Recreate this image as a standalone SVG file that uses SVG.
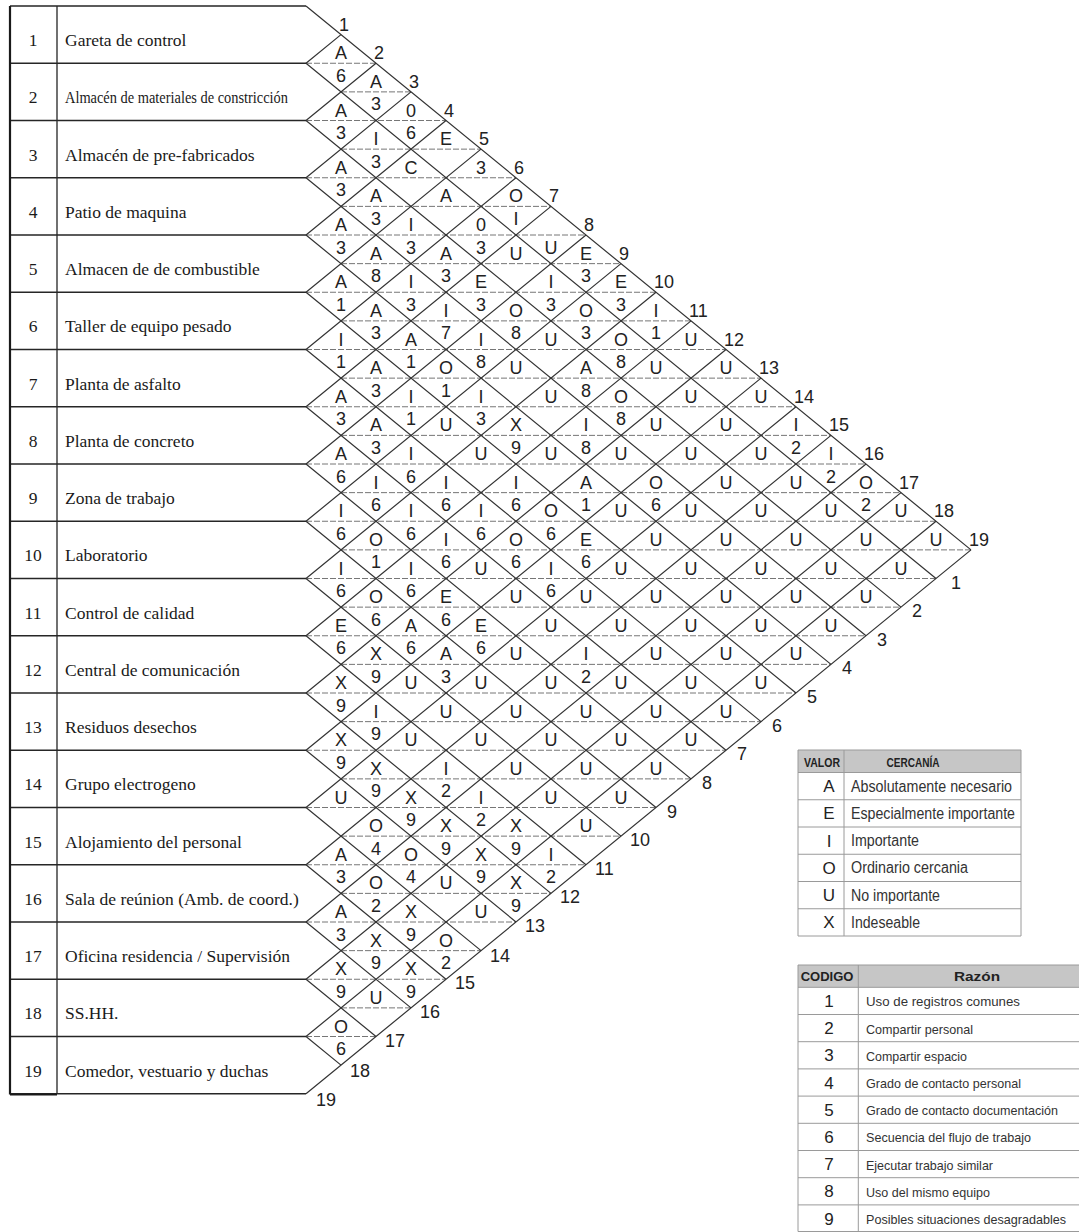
<svg xmlns="http://www.w3.org/2000/svg" width="1079" height="1232" viewBox="0 0 1079 1232">
<style>
.tl{stroke:#262626;stroke-width:1.3;fill:none}
.gl{stroke:#333;stroke-width:1.2;fill:none}
.dl{stroke:#666;stroke-width:0.9;stroke-dasharray:6 2;fill:none}
.num{font-family:"Liberation Serif","Times New Roman",serif;font-size:17.5px;fill:#1a1a1a;text-anchor:middle}
.name{font-family:"Liberation Serif","Times New Roman",serif;font-size:17.5px;fill:#1a1a1a}
.c text{font-family:"Liberation Sans",Arial,sans-serif;font-size:18px;fill:#222;text-anchor:middle}
.lab text{font-family:"Liberation Sans",Arial,sans-serif;font-size:18px;fill:#222}
.lg{stroke:#9a9a9a;stroke-width:1;fill:none}
.lk{font-family:"Liberation Sans",Arial,sans-serif;font-size:17px;fill:#222;text-anchor:middle}
.ld{font-family:"Liberation Sans",Arial,sans-serif;font-size:16px;fill:#333}
.lr{font-family:"Liberation Sans",Arial,sans-serif;font-size:13.5px;fill:#333}
.hb{font-family:"Liberation Sans",Arial,sans-serif;font-weight:bold;font-size:13px;fill:#222;text-anchor:middle}
</style>
<rect width="1079" height="1232" fill="#fff"/>

<g id="table-lines">
<path class="tl" d="M10 6H306M10 63.25H306M10 120.5H306M10 177.75H306M10 235H306M10 292.25H306M10 349.5H306M10 406.75H306M10 464H306M10 521.25H306M10 578.5H306M10 635.75H306M10 693H306M10 750.25H306M10 807.5H306M10 864.75H306M10 922H306M10 979.25H306M10 1036.5H306M10 1093.75H306M57 6V1093.75"/>
<path stroke="#1a1a1a" stroke-width="2.2" fill="none" d="M10 6V1094.5M10 1094.5H57"/>
</g>

<g id="rows">
<g id="row-1"><text class="num" x="33" y="46.1">1</text><text class="name" x="65" y="46.1">Gareta de control</text></g>
<g id="row-2"><text class="num" x="33" y="103.4">2</text><text class="name" x="65" y="103.4" textLength="223" lengthAdjust="spacingAndGlyphs">Almacén de materiales de constricción</text></g>
<g id="row-3"><text class="num" x="33" y="160.6">3</text><text class="name" x="65" y="160.6">Almacén de pre-fabricados</text></g>
<g id="row-4"><text class="num" x="33" y="217.9">4</text><text class="name" x="65" y="217.9">Patio de maquina</text></g>
<g id="row-5"><text class="num" x="33" y="275.1">5</text><text class="name" x="65" y="275.1">Almacen de de combustible</text></g>
<g id="row-6"><text class="num" x="33" y="332.4">6</text><text class="name" x="65" y="332.4">Taller de equipo pesado</text></g>
<g id="row-7"><text class="num" x="33" y="389.6">7</text><text class="name" x="65" y="389.6">Planta de asfalto</text></g>
<g id="row-8"><text class="num" x="33" y="446.9">8</text><text class="name" x="65" y="446.9">Planta de concreto</text></g>
<g id="row-9"><text class="num" x="33" y="504.1">9</text><text class="name" x="65" y="504.1">Zona de trabajo</text></g>
<g id="row-10"><text class="num" x="33" y="561.4">10</text><text class="name" x="65" y="561.4">Laboratorio</text></g>
<g id="row-11"><text class="num" x="33" y="618.6">11</text><text class="name" x="65" y="618.6">Control de calidad</text></g>
<g id="row-12"><text class="num" x="33" y="675.9">12</text><text class="name" x="65" y="675.9">Central de comunicación</text></g>
<g id="row-13"><text class="num" x="33" y="733.1">13</text><text class="name" x="65" y="733.1">Residuos desechos</text></g>
<g id="row-14"><text class="num" x="33" y="790.4">14</text><text class="name" x="65" y="790.4">Grupo electrogeno</text></g>
<g id="row-15"><text class="num" x="33" y="847.6">15</text><text class="name" x="65" y="847.6">Alojamiento del personal</text></g>
<g id="row-16"><text class="num" x="33" y="904.9">16</text><text class="name" x="65" y="904.9">Sala de reúnion (Amb. de coord.)</text></g>
<g id="row-17"><text class="num" x="33" y="962.1">17</text><text class="name" x="65" y="962.1">Oficina residencia / Supervisión</text></g>
<g id="row-18"><text class="num" x="33" y="1019.4">18</text><text class="name" x="65" y="1019.4">SS.HH.</text></g>
<g id="row-19"><text class="num" x="33" y="1076.6">19</text><text class="name" x="65" y="1076.6">Comedor, vestuario y duchas</text></g>
</g>

<g id="grid">
<path class="dl" d="M306 63.25H376M341 91.875H411M306 120.5H446M341 149.125H481M306 177.75H516M341 206.375H551M306 235H586M341 263.625H621M306 292.25H656M341 320.875H691M306 349.5H726M341 378.125H761M306 406.75H796M341 435.375H831M306 464H866M341 492.625H901M306 521.25H936M341 549.875H971M306 578.5H936M341 607.125H901M306 635.75H866M341 664.375H831M306 693H796M341 721.625H761M306 750.25H726M341 778.875H691M306 807.5H656M341 836.125H621M306 864.75H586M341 893.375H551M306 922H516M341 950.625H481M306 979.25H446M341 1007.875H411M306 1036.5H376"/>
<path class="gl" d="M306 6L971 549.875M306 63.25L936 578.5M306 120.5L901 607.125M306 177.75L866 635.75M306 235L831 664.375M306 292.25L796 693M306 349.5L761 721.625M306 406.75L726 750.25M306 464L691 778.875M306 521.25L656 807.5M306 578.5L621 836.125M306 635.75L586 864.75M306 693L551 893.375M306 750.25L516 922M306 807.5L481 950.625M306 864.75L446 979.25M306 922L411 1007.875M306 979.25L376 1036.5M306 1036.5L341 1065.125"/>
<path class="gl" d="M306 63.25L341 34.625M306 120.5L376 63.25M306 177.75L411 91.875M306 235L446 120.5M306 292.25L481 149.125M306 349.5L516 177.75M306 406.75L551 206.375M306 464L586 235M306 521.25L621 263.625M306 578.5L656 292.25M306 635.75L691 320.875M306 693L726 349.5M306 750.25L761 378.125M306 807.5L796 406.75M306 864.75L831 435.375M306 922L866 464M306 979.25L901 492.625M306 1036.5L936 521.25M306 1093.75L971 549.875"/>
</g>

<g id="edge-labels" class="lab">
<text x="339" y="30.6">1</text><text x="374" y="59.25">2</text><text x="409" y="87.9">3</text><text x="444" y="116.5">4</text><text x="479" y="145.1">5</text><text x="514" y="173.75">6</text><text x="549" y="202.4">7</text><text x="584" y="231">8</text><text x="619" y="259.6">9</text><text x="654" y="288.25">10</text><text x="689" y="316.9">11</text><text x="724" y="345.5">12</text><text x="759" y="374.1">13</text><text x="794" y="402.75">14</text><text x="829" y="431.4">15</text><text x="864" y="460">16</text><text x="899" y="488.6">17</text><text x="934" y="517.25">18</text><text x="969" y="545.9">19</text>
<text x="951" y="588.5">1</text><text x="912" y="617.1">2</text><text x="877" y="645.75">3</text><text x="842" y="674.4">4</text><text x="807" y="703">5</text><text x="772" y="731.6">6</text><text x="737" y="760.25">7</text><text x="702" y="788.9">8</text><text x="667" y="817.5">9</text><text x="630" y="846.1">10</text><text x="595" y="874.75">11</text><text x="560" y="903.4">12</text><text x="525" y="932">13</text><text x="490" y="962">14</text><text x="455" y="989.25">15</text><text x="420" y="1017.9">16</text><text x="385" y="1046.5">17</text><text x="350" y="1077">18</text><text x="316" y="1106">19</text>
</g>

<g id="cells">
<g id="col-1" class="c" transform="translate(341,63.25)">
<text y="-4">A</text><text y="18.5">6</text>
<text y="53.25">A</text><text y="75.75">3</text>
<text y="110.5">A</text><text y="133">3</text>
<text y="167.75">A</text><text y="190.25">3</text>
<text y="225">A</text><text y="247.5">1</text>
<text y="282.25">I</text><text y="304.75">1</text>
<text y="339.5">A</text><text y="362">3</text>
<text y="396.75">A</text><text y="419.25">6</text>
<text y="454">I</text><text y="476.5">6</text>
<text y="511.25">I</text><text y="533.75">6</text>
<text y="568.5">E</text><text y="591">6</text>
<text y="625.75">X</text><text y="648.25">9</text>
<text y="683">X</text><text y="705.5">9</text>
<text y="740.25">U</text>
<text y="797.5">A</text><text y="820">3</text>
<text y="854.75">A</text><text y="877.25">3</text>
<text y="912">X</text><text y="934.5">9</text>
<text y="969.25">O</text><text y="991.75">6</text>
</g>
<g id="col-2" class="c" transform="translate(376,91.875)">
<text y="-4">A</text><text y="18.5">3</text>
<text y="53.25">I</text><text y="75.75">3</text>
<text y="110.5">A</text><text y="133">3</text>
<text y="167.75">A</text><text y="190.25">8</text>
<text y="225">A</text><text y="247.5">3</text>
<text y="282.25">A</text><text y="304.75">3</text>
<text y="339.5">A</text><text y="362">3</text>
<text y="396.75">I</text><text y="419.25">6</text>
<text y="454">O</text><text y="476.5">1</text>
<text y="511.25">O</text><text y="533.75">6</text>
<text y="568.5">X</text><text y="591">9</text>
<text y="625.75">I</text><text y="648.25">9</text>
<text y="683">X</text><text y="705.5">9</text>
<text y="740.25">O</text><text y="762.75">4</text>
<text y="797.5">O</text><text y="820">2</text>
<text y="854.75">X</text><text y="877.25">9</text>
<text y="912">U</text>
</g>
<g id="col-3" class="c" transform="translate(411,120.5)">
<text y="-4">0</text><text y="18.5">6</text>
<text y="53.25">C</text>
<text y="110.5">I</text><text y="133">3</text>
<text y="167.75">I</text><text y="190.25">3</text>
<text y="225">A</text><text y="247.5">1</text>
<text y="282.25">I</text><text y="304.75">1</text>
<text y="339.5">I</text><text y="362">6</text>
<text y="396.75">I</text><text y="419.25">6</text>
<text y="454">I</text><text y="476.5">6</text>
<text y="511.25">A</text><text y="533.75">6</text>
<text y="568.5">U</text>
<text y="625.75">U</text>
<text y="683">X</text><text y="705.5">9</text>
<text y="740.25">O</text><text y="762.75">4</text>
<text y="797.5">X</text><text y="820">9</text>
<text y="854.75">X</text><text y="877.25">9</text>
</g>
<g id="col-4" class="c" transform="translate(446,149.125)">
<text y="-4">E</text>
<text y="53.25">A</text>
<text y="110.5">A</text><text y="133">3</text>
<text y="167.75">I</text><text y="190.25">7</text>
<text y="225">O</text><text y="247.5">1</text>
<text y="282.25">U</text>
<text y="339.5">I</text><text y="362">6</text>
<text y="396.75">I</text><text y="419.25">6</text>
<text y="454">E</text><text y="476.5">6</text>
<text y="511.25">A</text><text y="533.75">3</text>
<text y="568.5">U</text>
<text y="625.75">I</text><text y="648.25">2</text>
<text y="683">X</text><text y="705.5">9</text>
<text y="740.25">U</text>
<text y="797.5">O</text><text y="820">2</text>
</g>
<g id="col-5" class="c" transform="translate(481,177.75)">
<text y="-4">3</text>
<text y="53.25">0</text><text y="75.75">3</text>
<text y="110.5">E</text><text y="133">3</text>
<text y="167.75">I</text><text y="190.25">8</text>
<text y="225">I</text><text y="247.5">3</text>
<text y="282.25">U</text>
<text y="339.5">I</text><text y="362">6</text>
<text y="396.75">U</text>
<text y="454">E</text><text y="476.5">6</text>
<text y="511.25">U</text>
<text y="568.5">U</text>
<text y="625.75">I</text><text y="648.25">2</text>
<text y="683">X</text><text y="705.5">9</text>
<text y="740.25">U</text>
</g>
<g id="col-6" class="c" transform="translate(516,206.375)">
<text y="-4">O</text><text y="18.5">I</text>
<text y="53.25">U</text>
<text y="110.5">O</text><text y="133">8</text>
<text y="167.75">U</text>
<text y="225">X</text><text y="247.5">9</text>
<text y="282.25">I</text><text y="304.75">6</text>
<text y="339.5">O</text><text y="362">6</text>
<text y="396.75">U</text>
<text y="454">U</text>
<text y="511.25">U</text>
<text y="568.5">U</text>
<text y="625.75">X</text><text y="648.25">9</text>
<text y="683">X</text><text y="705.5">9</text>
</g>
<g id="col-7" class="c" transform="translate(551,235)">
<text y="18.5">U</text>
<text y="53.25">I</text><text y="75.75">3</text>
<text y="110.5">U</text>
<text y="167.75">U</text>
<text y="225">U</text>
<text y="282.25">O</text><text y="304.75">6</text>
<text y="339.5">I</text><text y="362">6</text>
<text y="396.75">U</text>
<text y="454">U</text>
<text y="511.25">U</text>
<text y="568.5">U</text>
<text y="625.75">I</text><text y="648.25">2</text>
</g>
<g id="col-8" class="c" transform="translate(586,263.625)">
<text y="-4">E</text><text y="18.5">3</text>
<text y="53.25">O</text><text y="75.75">3</text>
<text y="110.5">A</text><text y="133">8</text>
<text y="167.75">I</text><text y="190.25">8</text>
<text y="225">A</text><text y="247.5">1</text>
<text y="282.25">E</text><text y="304.75">6</text>
<text y="339.5">U</text>
<text y="396.75">I</text><text y="419.25">2</text>
<text y="454">U</text>
<text y="511.25">U</text>
<text y="568.5">U</text>
</g>
<g id="col-9" class="c" transform="translate(621,292.25)">
<text y="-4">E</text><text y="18.5">3</text>
<text y="53.25">O</text><text y="75.75">8</text>
<text y="110.5">O</text><text y="133">8</text>
<text y="167.75">U</text>
<text y="225">U</text>
<text y="282.25">U</text>
<text y="339.5">U</text>
<text y="396.75">U</text>
<text y="454">U</text>
<text y="511.25">U</text>
</g>
<g id="col-10" class="c" transform="translate(656,320.875)">
<text y="-4">I</text><text y="18.5">1</text>
<text y="53.25">U</text>
<text y="110.5">U</text>
<text y="167.75">O</text><text y="190.25">6</text>
<text y="225">U</text>
<text y="282.25">U</text>
<text y="339.5">U</text>
<text y="396.75">U</text>
<text y="454">U</text>
</g>
<g id="col-11" class="c" transform="translate(691,349.5)">
<text y="-4">U</text><text y="53.25">U</text><text y="110.5">U</text><text y="167.75">U</text><text y="225">U</text><text y="282.25">U</text><text y="339.5">U</text><text y="396.75">U</text>
</g>
<g id="col-12" class="c" transform="translate(726,378.125)">
<text y="-4">U</text><text y="53.25">U</text><text y="110.5">U</text><text y="167.75">U</text><text y="225">U</text><text y="282.25">U</text><text y="339.5">U</text>
</g>
<g id="col-13" class="c" transform="translate(761,406.75)">
<text y="-4">U</text><text y="53.25">U</text><text y="110.5">U</text><text y="167.75">U</text><text y="225">U</text><text y="282.25">U</text>
</g>
<g id="col-14" class="c" transform="translate(796,435.375)">
<text y="-4">I</text><text y="18.5">2</text><text y="53.25">U</text><text y="110.5">U</text><text y="167.75">U</text><text y="225">U</text>
</g>
<g id="col-15" class="c" transform="translate(831,464)">
<text y="-4">I</text><text y="18.5">2</text><text y="53.25">U</text><text y="110.5">U</text><text y="167.75">U</text>
</g>
<g id="col-16" class="c" transform="translate(866,492.625)">
<text y="-4">O</text><text y="18.5">2</text><text y="53.25">U</text><text y="110.5">U</text>
</g>
<g id="col-17" class="c" transform="translate(901,521.25)">
<text y="-4">U</text><text y="53.25">U</text>
</g>
<g id="col-18" class="c" transform="translate(936,549.875)">
<text y="-4">U</text>
</g>
</g>

<g id="legend-cercania">
<rect x="798" y="750" width="223" height="186" fill="#fff"/>
<rect x="798" y="750" width="223" height="22.5" fill="#c6c6c6"/>
<path class="lg" d="M798 750H1021V936H798ZM798 772.5H1021M798 799.75H1021M798 827H1021M798 854.25H1021M798 881.5H1021M798 908.75H1021M844 750V936"/>
<text class="hb" x="822" y="767" textLength="36" lengthAdjust="spacingAndGlyphs">VALOR</text>
<text class="hb" x="913" y="767" textLength="53" lengthAdjust="spacingAndGlyphs">CERCANÍA</text>
<text class="lk" x="829" y="792.1">A</text><text class="ld" x="851" y="791.6" textLength="161" lengthAdjust="spacingAndGlyphs">Absolutamente necesario</text>
<text class="lk" x="829" y="819.4">E</text><text class="ld" x="851" y="818.9" textLength="164" lengthAdjust="spacingAndGlyphs">Especialmente importante</text>
<text class="lk" x="829" y="846.6">I</text><text class="ld" x="851" y="846.1" textLength="68" lengthAdjust="spacingAndGlyphs">Importante</text>
<text class="lk" x="829" y="873.9">O</text><text class="ld" x="851" y="873.4" textLength="117" lengthAdjust="spacingAndGlyphs">Ordinario cercania</text>
<text class="lk" x="829" y="901.1">U</text><text class="ld" x="851" y="900.6" textLength="89" lengthAdjust="spacingAndGlyphs">No importante</text>
<text class="lk" x="829" y="928.4">X</text><text class="ld" x="851" y="927.9" textLength="69" lengthAdjust="spacingAndGlyphs">Indeseable</text>
</g>

<g id="legend-razon">
<rect x="798" y="965" width="290" height="266.5" fill="#fff"/>
<rect x="798" y="965" width="290" height="22.3" fill="#c6c6c6"/>
<path class="lg" d="M1088 965H798V1231.5H1088M798 987.3H1088M798 1014.5H1088M798 1041.7H1088M798 1068.9H1088M798 1096.1H1088M798 1123.3H1088M798 1150.5H1088M798 1177.7H1088M798 1204.9H1088M858.3 965V1231.5"/>
<text class="hb" x="827" y="981">CODIGO</text>
<text class="hb" x="977" y="981" font-size="14" textLength="46" lengthAdjust="spacingAndGlyphs">Razón</text>
<text class="lk" x="829" y="1006.9">1</text><text class="lr" x="866" y="1006.4" textLength="154" lengthAdjust="spacingAndGlyphs">Uso de registros comunes</text>
<text class="lk" x="829" y="1034.1">2</text><text class="lr" x="866" y="1033.6" textLength="107" lengthAdjust="spacingAndGlyphs">Compartir personal</text>
<text class="lk" x="829" y="1061.3">3</text><text class="lr" x="866" y="1060.8" textLength="101" lengthAdjust="spacingAndGlyphs">Compartir espacio</text>
<text class="lk" x="829" y="1088.5">4</text><text class="lr" x="866" y="1088" textLength="155" lengthAdjust="spacingAndGlyphs">Grado de contacto personal</text>
<text class="lk" x="829" y="1115.7">5</text><text class="lr" x="866" y="1115.2" textLength="192" lengthAdjust="spacingAndGlyphs">Grado de contacto documentación</text>
<text class="lk" x="829" y="1142.9">6</text><text class="lr" x="866" y="1142.4" textLength="165" lengthAdjust="spacingAndGlyphs">Secuencia del flujo de trabajo</text>
<text class="lk" x="829" y="1170.1">7</text><text class="lr" x="866" y="1169.6" textLength="127" lengthAdjust="spacingAndGlyphs">Ejecutar trabajo similar</text>
<text class="lk" x="829" y="1197.3">8</text><text class="lr" x="866" y="1196.8" textLength="124" lengthAdjust="spacingAndGlyphs">Uso del mismo equipo</text>
<text class="lk" x="829" y="1224.5">9</text><text class="lr" x="866" y="1224" textLength="200" lengthAdjust="spacingAndGlyphs">Posibles situaciones desagradables</text>
</g>
</svg>
